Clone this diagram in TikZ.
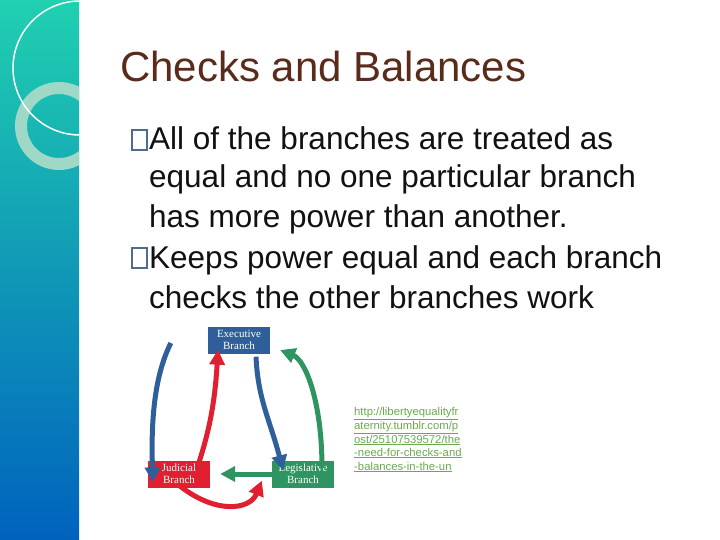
\documentclass[tikz,border=0pt]{standalone}
\usepackage{fontspec}
\setmainfont{Liberation Sans}
\newfontfamily\brfont{Liberation Serif}
\usetikzlibrary{arrows.meta}
\definecolor{exec}{HTML}{2E5F9A}
\definecolor{jud}{HTML}{E02030}
\definecolor{leg}{HTML}{2E9462}
\definecolor{titlec}{HTML}{5A2A1A}
\definecolor{urlc}{HTML}{6AAA50}
\definecolor{bandtop}{HTML}{20D0B0}
\definecolor{bandbot}{HTML}{0062BE}
\definecolor{ringc}{HTML}{A0D8C8}
\definecolor{bodyc}{HTML}{111111}
\begin{document}
\begin{tikzpicture}[x=1pt,y=-1pt,
  body/.style={anchor=base west,inner sep=0pt,text=bodyc,font=\fontsize{31.5}{32}\selectfont},
  bbox/.style={draw=#1,line width=1.3pt},
  branch/.style={fill=#1,text=white,minimum width=62pt,minimum height=27pt,inner sep=0pt,align=center,font=\fontsize{11}{12}\selectfont\brfont},
  arr/.style={draw=#1,line width=5pt,-{Triangle[length=15pt,width=15pt]}},
  url/.style={anchor=base west,inner sep=0pt,text=urlc,font=\fontsize{11.3}{11}\selectfont}]
\useasboundingbox (0,0) rectangle (720,540);
\fill[white] (0,0) rectangle (720,540);
\shade[top color=bandtop,bottom color=bandbot] (0,0) rectangle (79,540);
\begin{scope}
\clip (0,0) rectangle (79,540);
\fill[white,opacity=0.3] (0,0) -- (65,0) arc[start angle=0,end angle=-90,x radius=65,y radius=63] -- cycle;
\draw[line width=12pt,draw=ringc] (59,126) circle[radius=38];
\draw[white,line width=1.5pt] (80,68) circle[radius=67];
\end{scope}
\node[anchor=base west,inner sep=0pt,text=titlec,font=\fontsize{42}{42}\selectfont] (title) at (120,82) {Checks and Balances};
\draw[bbox=exec!60!gray] (132,130) rectangle (147,150);
\node[body] (l1) at (149,150) {All of the branches are treated as};
\node[body] (l2) at (149,188) {equal and no one particular branch};
\node[body] (l3) at (149,228) {has more power than another.};
\draw[bbox=exec!60!gray] (132,248) rectangle (147,268);
\node[body] (l4) at (149,268) {Keeps power equal and each branch};
\node[body] (l5) at (149,308) {checks the other branches work};
\node[branch=exec] (ex) at (239,340) {Executive\\Branch};
\node[branch=jud] (ju) at (179,474) {Judicial\\Branch};
\node[branch=leg] (le) at (303,474) {Legislative\\Branch};
\draw[arr=exec] ([xshift=-37pt,yshift=-3pt]ex.west) .. controls (160,365) and (150,400) .. ([xshift=-26pt,yshift=-22pt]ju.north);
\draw[arr=exec] ([xshift=17pt,yshift=-3pt]ex.south) .. controls (258,400) and (270,420) .. ([xshift=-20pt,yshift=-10pt]le.north);
\draw[arr=jud] ([xshift=18pt,yshift=-8pt]ju.north) .. controls (210,430) and (215,400) .. ([xshift=-21pt,yshift=4pt]ex.south);
\draw[arr=jud] ([xshift=-2pt,yshift=4pt]ju.south) .. controls (215,515) and (250,510) .. ([xshift=-10pt,yshift=7pt]le.south west);
\draw[arr=leg] (le.west) -- ([xshift=10pt]ju.east);
\draw[arr=leg] ([xshift=19pt,yshift=-8pt]le.north) .. controls (322,400) and (305,360) .. ([xshift=10pt,yshift=-10pt]ex.east);
\node[url] (u1) at (354,415) {\underline{http://libertyequalityfr}};
\node[url] (u2) at (354,429) {\underline{aternity.tumblr.com/p}};
\node[url] (u3) at (354,443) {\underline{ost/25107539572/the}};
\node[url] (u4) at (354,456) {\underline{-need-for-checks-and}};
\node[url] (u5) at (354,470) {\underline{-balances-in-the-un}};
\end{tikzpicture}
\end{document}
